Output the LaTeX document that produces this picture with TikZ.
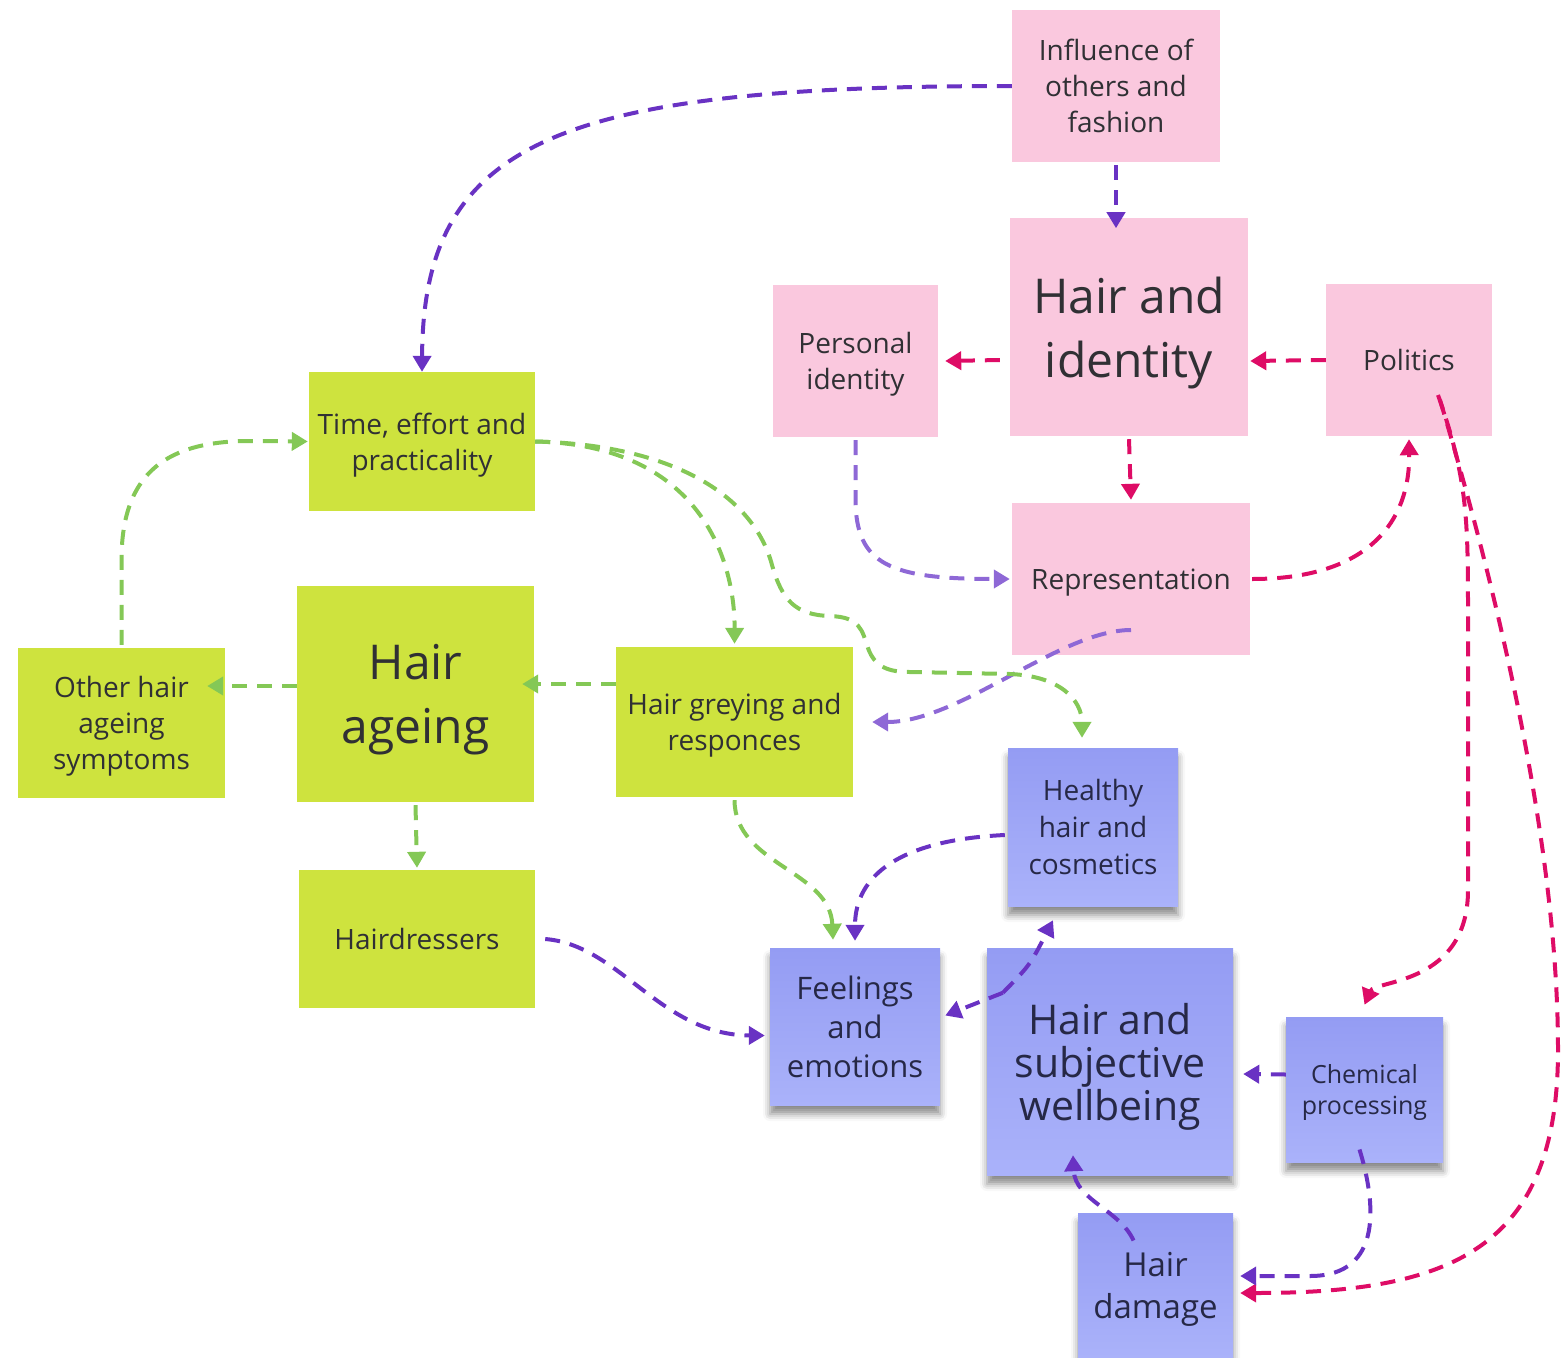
\documentclass[tikz,border=0pt]{standalone}
\usepackage{fontspec}
\setmainfont{Open Sans}
\usetikzlibrary{arrows.meta,shadows.blur}
\definecolor{pinkbox}{RGB}{250,200,222}
\definecolor{greenbox}{RGB}{206,227,62}
\definecolor{blueT}{RGB}{148,156,243}
\definecolor{blueB}{RGB}{170,178,250}
\definecolor{txt}{RGB}{48,48,52}
\definecolor{txtb}{RGB}{38,40,70}
\definecolor{cpurp}{RGB}{105,50,195}
\definecolor{clpurp}{RGB}{142,104,214}
\definecolor{cmag}{RGB}{222,12,102}
\definecolor{cgreen}{RGB}{132,200,86}
\begin{document}
\begin{tikzpicture}[x=1pt,y=-1pt,
  box/.style={rectangle,inner sep=0pt,align=center,text=txt,text depth=0pt},
  sz/.style 2 args={minimum width=#1pt,minimum height=#2pt},
  pinkb/.style={box,fill=pinkbox},
  greenb/.style={box,fill=greenbox},
  blueb/.style={box,text=txtb,top color=blueT,bottom color=blueB,
     blur shadow={shadow xshift=0pt,shadow yshift=-9pt,shadow opacity=45,shadow blur radius=7pt}},
  tbody/.style={font=\fontsize{28}{36}\selectfont},
  tbig/.style={font=\fontsize{48}{64}\selectfont},
  conn/.style={dash pattern=on 15pt off 10pt,line width=4pt,
     -{Triangle[length=16pt,width=18pt]}},
  purpc/.style={conn,draw=cpurp},
  lpurpc/.style={conn,draw=clpurp},
  magc/.style={conn,draw=cmag},
  greenc/.style={conn,draw=cgreen}]
\useasboundingbox (0,0) rectangle (1567,1358);

% pink nodes
\node[pinkb,sz={208}{152},tbody] (infl) at (1116,86) {Influence of\\others and\\fashion};
\node[pinkb,sz={238}{218},tbig] (hid) at (1129,327) {Hair and\\identity};
\node[pinkb,sz={165}{152},tbody] (pid) at (855.5,361) {Personal\\identity};
\node[pinkb,sz={166}{152},tbody] (pol) at (1409,360) {Politics};
\node[pinkb,sz={238}{152},tbody] (rep) at (1131,579) {Representation};

% green nodes
\node[greenb,sz={226}{139},tbody] (time) at (422,441.5) {Time, effort and\\practicality};
\node[greenb,sz={237}{216},tbig] (hage) at (415.5,694) {Hair\\ageing};
\node[greenb,sz={207}{150},tbody] (other) at (121.5,723) {Other hair\\ageing\\symptoms};
\node[greenb,sz={237}{150},tbody] (grey) at (734.5,722) {Hair greying and\\responces};
\node[greenb,sz={236}{138},tbody] (hdress) at (417,939) {Hairdressers};

% blue nodes
\node[blueb,sz={170}{158},font=\fontsize{28}{37}\selectfont] (healthy) at (1093,827) {Healthy\\hair and\\cosmetics};
\node[blueb,sz={170}{157},font=\fontsize{31}{39}\selectfont] (feel) at (855,1026.5) {Feelings\\and\\emotions};
\node[blueb,sz={246}{227},font=\fontsize{41}{43}\selectfont] (hsw) at (1110,1061.5) {Hair and\\subjective\\wellbeing};
\node[blueb,sz={157}{145},font=\fontsize{25}{31}\selectfont] (chem) at (1364.5,1089.5) {Chemical\\processing};
\node[blueb,sz={155}{145},font=\fontsize{33}{42}\selectfont] (dmg) at (1155.5,1285.5) {Hair\\damage};

% connectors: purple
\draw[purpc] (infl.west) .. controls (560,86) and (423,140) .. (time.north);
\draw[purpc] ([yshift=-3pt]infl.south) -- ++(0,63);
\draw[lpurpc] ([yshift=-3pt]pid.south) -- (855.5,500) .. controls (856,565) and (890,579) .. ([xshift=-2pt]rep.west);
\draw[lpurpc] ([yshift=-51pt]rep.center) .. controls (1060,630) and (960,722) .. ([xshift=19pt]grey.east);

% magenta
\draw[magc] ([xshift=-10pt,yshift=-33pt]hid.west) -- ([xshift=7pt]pid.east);
\draw[magc] (pol.west) -- ([xshift=2pt,yshift=-34pt]hid.east);
\draw[magc] ([yshift=-3pt]hid.south) -- ([yshift=3pt]rep.north);
\draw[magc] ([xshift=2pt]rep.east) .. controls (1370,579) and (1410,520) .. ([yshift=-3pt]pol.south);
\draw[magc] ([xshift=29pt,yshift=-35pt]pol.center) .. controls (1468,480) and (1468,520) .. (1468,620)
   -- (1468,890) .. controls (1468,985) and (1375,980) .. ([yshift=12pt]chem.north);
\draw[magc] ([xshift=31pt,yshift=-40pt]pol.center) .. controls (1500,600) and (1558,850) .. (1558,1050)
   .. controls (1558,1250) and (1450,1293) .. ([xshift=7pt,yshift=-7.5pt]dmg.east);

% green
\draw[greenc] (time.east) .. controls (700,445) and (735,560) .. ([yshift=3pt]grey.north);
\draw[greenc] (time.east) .. controls (680,445) and (755,500) .. (772,565)
   .. controls (782,600) and (795,615) .. (830,616)
   .. controls (860,617) and (862,630) .. (868,648)
   .. controls (875,668) and (890,672) .. (910,672) -- (1010,674)
   .. controls (1060,676) and (1082,700) .. ([xshift=-11pt,yshift=10pt]healthy.north);
\draw[greenc] ([yshift=3pt]other.north) -- (121.5,560) .. controls (121.5,470) and (170,441) .. (250,441) -- ([xshift=-1pt]time.west);
\draw[greenc] ([yshift=8pt]hage.west) -- ([xshift=-18pt,yshift=37pt]other.east);
\draw[greenc] ([yshift=38pt]grey.west) -- ([xshift=-12pt,yshift=10pt]hage.east);
\draw[greenc] ([yshift=-3pt]hage.south) -- ([yshift=2pt]hdress.north);
\draw[greenc] ([yshift=-3pt]grey.south) .. controls (735,865) and (830,870) .. ([xshift=-22pt,yshift=8pt]feel.north);

% purple lower
\draw[purpc] ([xshift=-3pt,yshift=-8pt]healthy.west) .. controls (900,840) and (855,875) .. ([yshift=7pt]feel.north);
\draw[purpc] ([xshift=10pt]hdress.east) .. controls (620,945) and (660,1035) .. ([xshift=-5pt,yshift=-9pt]feel.west);
\coordinate (hswj) at ([xshift=16pt,yshift=-45pt]hsw.north west);
\draw[purpc] (hswj) -- ([xshift=5pt,yshift=11pt]feel.east);
\draw[purpc] (hswj) .. controls (1030,965) .. ([xshift=-40pt,yshift=-14pt]healthy.south);
\draw[purpc] ([yshift=15pt]chem.west) -- ([xshift=10pt,yshift=-12.5pt]hsw.east);
\draw[purpc] ([xshift=-5pt,yshift=-60pt]chem.center) .. controls (1375,1200) and (1385,1276) .. (1310,1276) -- ([xshift=7pt,yshift=9.5pt]dmg.east);
\draw[purpc] ([xshift=-22pt,yshift=45pt]dmg.center) .. controls (1120,1210) and (1075,1200) .. ([xshift=-37pt,yshift=20pt]hsw.south);
\end{tikzpicture}
\end{document}
